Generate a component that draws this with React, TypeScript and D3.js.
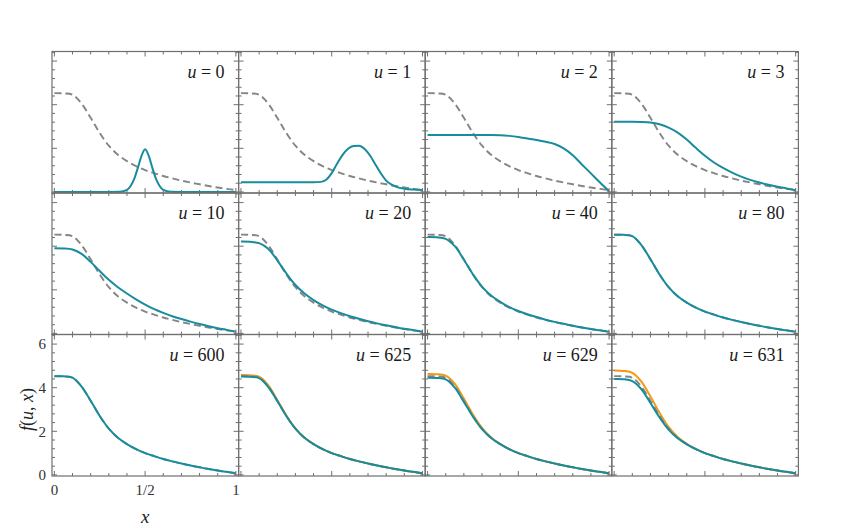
import React from 'react';
import * as d3 from 'd3';

// sample grid shared by most curves
const xGrid = [0, 0.05, 0.1, 0.15, 0.2, 0.25, 0.3, 0.35, 0.4, 0.45, 0.5, 0.55, 0.6, 0.65, 0.7, 0.75, 0.8, 0.85, 0.9, 0.95, 1];

// equilibrium (dashed gray)
const fEq = [4.53, 4.52, 4.46, 4.05, 3.4, 2.7, 2.12, 1.7, 1.41, 1.18, 1.0, 0.86, 0.73, 0.62, 0.52, 0.43, 0.35, 0.27, 0.2, 0.14, 0.08];

// early times with their own grids
const u0X = [0, 0.3, 0.36, 0.4, 0.42, 0.44, 0.46, 0.48, 0.5, 0.52, 0.54, 0.56, 0.58, 0.6, 0.64, 0.7, 1];
const u0F = [0, 0, 0.005, 0.09, 0.27, 0.6, 1.1, 1.65, 1.96, 1.65, 1.1, 0.6, 0.27, 0.09, 0.005, 0, 0];
const u1X = [0, 0.4, 0.44, 0.47, 0.5, 0.53, 0.56, 0.59, 0.62, 0.65, 0.68, 0.71, 0.74, 0.77, 0.8, 0.83, 0.86, 0.9, 0.95, 1];
const u1F = [0.44, 0.44, 0.46, 0.56, 0.86, 1.3, 1.7, 1.98, 2.11, 2.12, 1.98, 1.68, 1.27, 0.86, 0.52, 0.33, 0.22, 0.15, 0.11, 0.09];

const fU2 = [2.61, 2.61, 2.61, 2.61, 2.61, 2.61, 2.61, 2.61, 2.6, 2.57, 2.52, 2.45, 2.38, 2.3, 2.2, 2.0, 1.68, 1.26, 0.85, 0.43, 0.03];
const fU3 = [3.22, 3.22, 3.22, 3.21, 3.18, 3.1, 2.95, 2.72, 2.4, 2.02, 1.66, 1.35, 1.1, 0.88, 0.7, 0.55, 0.43, 0.33, 0.24, 0.16, 0.08];
const fU10 = [3.91, 3.9, 3.85, 3.65, 3.28, 2.86, 2.46, 2.12, 1.83, 1.56, 1.32, 1.11, 0.94, 0.79, 0.66, 0.54, 0.43, 0.33, 0.24, 0.16, 0.08];
const fU20 = [4.21, 4.2, 4.14, 3.88, 3.35, 2.75, 2.22, 1.83, 1.53, 1.29, 1.09, 0.93, 0.79, 0.67, 0.56, 0.46, 0.37, 0.29, 0.21, 0.15, 0.08];
const fU40 = [4.42, 4.41, 4.34, 4.0, 3.38, 2.71, 2.15, 1.74, 1.45, 1.21, 1.03, 0.88, 0.75, 0.63, 0.53, 0.44, 0.35, 0.27, 0.2, 0.14, 0.08];
const fU625 = [4.51, 4.5, 4.44, 4.04, 3.39, 2.7, 2.12, 1.7, 1.41, 1.18, 1.0, 0.86, 0.73, 0.62, 0.52, 0.43, 0.35, 0.27, 0.2, 0.14, 0.08];
const fU629 = [4.46, 4.45, 4.38, 4.0, 3.35, 2.67, 2.1, 1.69, 1.41, 1.18, 1.0, 0.86, 0.73, 0.62, 0.52, 0.43, 0.35, 0.27, 0.2, 0.14, 0.08];
const fU631 = [4.4, 4.39, 4.3, 3.93, 3.3, 2.64, 2.08, 1.68, 1.4, 1.18, 1.0, 0.86, 0.73, 0.62, 0.52, 0.43, 0.35, 0.27, 0.2, 0.14, 0.08];

// orange comparison curves
const gU625 = [4.58, 4.57, 4.51, 4.12, 3.44, 2.72, 2.13, 1.7, 1.41, 1.18, 1.0, 0.86, 0.73, 0.62, 0.52, 0.43, 0.35, 0.27, 0.2, 0.14, 0.08];
const gU629 = [4.63, 4.62, 4.55, 4.18, 3.5, 2.77, 2.16, 1.72, 1.42, 1.18, 1.0, 0.86, 0.73, 0.62, 0.52, 0.43, 0.35, 0.27, 0.2, 0.14, 0.08];
const gU631 = [4.79, 4.77, 4.68, 4.28, 3.6, 2.85, 2.2, 1.74, 1.43, 1.19, 1.0, 0.86, 0.73, 0.62, 0.52, 0.43, 0.35, 0.27, 0.2, 0.14, 0.08];

const uLabels = ['0', '1', '2', '3', '10', '20', '40', '80', '600', '625', '629', '631'];
const yTickLabels = [0, 2, 4, 6];
const xTickLabels = [{ v: 0, t: '0' }, { v: 0.5, t: '1/2' }, { v: 1, t: '1' }];

const zip = (xs: number[], ys: number[]) => xs.map((x, i) => [x, ys[i]] as [number, number]);

const panels = [
  { teal: zip(u0X, u0F), dashed: true, sharp: true },
  { teal: zip(u1X, u1F), dashed: true, sharp: true },
  { teal: zip(xGrid, fU2), dashed: true, sharp: true },
  { teal: zip(xGrid, fU3), dashed: true },
  { teal: zip(xGrid, fU10), dashed: true },
  { teal: zip(xGrid, fU20), dashed: true },
  { teal: zip(xGrid, fU40), dashed: true },
  { teal: zip(xGrid, fEq), dashed: true },
  { teal: zip(xGrid, fEq), dashed: true },
  { teal: zip(xGrid, fU625), dashed: true, orange: zip(xGrid, gU625) },
  { teal: zip(xGrid, fU629), dashed: true, orange: zip(xGrid, gU629) },
  { teal: zip(xGrid, fU631), dashed: true, orange: zip(xGrid, gU631) },
];

const W = 854, H = 528;
const left = 52, top = 51.5, pw = 186.6, ph = 141.5;
const TEAL = '#168c9c';
const ORANGE = '#f39a12';
const GRAY = '#858585';
const FRAME = '#6f6f6f';
const FONT = 'Liberation Serif';

const x = d3.scaleLinear().domain([-0.013, 1.015]).range([0, pw]);
const y = d3.scaleLinear().domain([-0.05, 6.44]).range([ph, 0]);
const smooth = d3.line<[number, number]>().x(d => x(d[0])).y(d => y(d[1])).curve(d3.curveCatmullRom.alpha(0.5));
const mono = d3.line<[number, number]>().x(d => x(d[0])).y(d => y(d[1])).curve(d3.curveMonotoneX);

const xMinor = d3.range(0, 1.0001, 0.1);
const yMinor = d3.range(0, 6.41, 0.4);

export default function App() {
  const eq = zip(xGrid, fEq);
  return (
    <svg width={W} height={H} style={{ position: 'absolute', left: 0, top: 0, background: '#fff' }}>
      {panels.map((p, i) => {
        const col = i % 4, row = Math.floor(i / 4);
        const ox = left + col * pw, oy = top + row * ph;
        const tealLine = p.sharp ? mono : smooth;
        return (
          <g key={i} transform={`translate(${ox},${oy})`}>
            <defs>
              <clipPath id={`clip${i}`}>
                <rect x={0} y={0} width={pw} height={ph} />
              </clipPath>
            </defs>
            <g clipPath={`url(#clip${i})`}>
              {p.orange && <path d={smooth(p.orange) || ''} fill="none" stroke={ORANGE} strokeWidth={2} />}
              {p.dashed && <path d={smooth(eq) || ''} fill="none" stroke={GRAY} strokeWidth={1.9} strokeDasharray="7,4" />}
              <path d={tealLine(p.teal) || ''} fill="none" stroke={TEAL} strokeWidth={2} />
            </g>
            {xMinor.map((v, k) => {
              const major = Math.abs(v - 0.5) < 1e-6 || v < 1e-6 || v > 0.999;
              const len = major ? 5 : 3;
              return (
                <g key={'xt' + k} stroke={FRAME} strokeWidth={1}>
                  <line x1={x(v)} x2={x(v)} y1={ph} y2={ph - len} />
                  <line x1={x(v)} x2={x(v)} y1={0} y2={len} />
                </g>
              );
            })}
            {yMinor.map((v, k) => {
              const major = Math.abs(v / 2 - Math.round(v / 2)) < 1e-6;
              const len = major ? 5 : 3;
              return (
                <g key={'yt' + k} stroke={FRAME} strokeWidth={1}>
                  <line x1={0} x2={len} y1={y(v)} y2={y(v)} />
                  <line x1={pw} x2={pw - len} y1={y(v)} y2={y(v)} />
                </g>
              );
            })}
            <rect x={0} y={0} width={pw} height={ph} fill="none" stroke={FRAME} strokeWidth={1.2} />
            <text x={pw - 14} y={26} textAnchor="end" style={{ fontFamily: FONT, fontSize: 18 }} fill="#1a1a1a">
              <tspan fontStyle="italic">u</tspan>{' = ' + uLabels[i]}
            </text>
            {i === 8 && (
              <g style={{ fontFamily: FONT, fontSize: 15 }} fill="#333">
                {yTickLabels.map(v => (
                  <text key={'yl' + v} x={-6} y={y(v)} dy="0.35em" textAnchor="end">{v}</text>
                ))}
                {xTickLabels.map(d => (
                  <text key={'xl' + d.t} x={x(d.v)} y={ph + 19} textAnchor="middle">{d.t}</text>
                ))}
              </g>
            )}
          </g>
        );
      })}
      <text x={x(0.5) + left} y={523} textAnchor="middle" style={{ fontFamily: FONT, fontSize: 19, fontStyle: 'italic' }} fill="#222">x</text>
      <text transform={`translate(33,${top + 2 * ph + y(3)}) rotate(-90)`} textAnchor="middle" style={{ fontFamily: FONT, fontSize: 18 }} fill="#222">
        <tspan fontStyle="italic">f</tspan>(<tspan fontStyle="italic">u</tspan>, <tspan fontStyle="italic">x</tspan>)
      </text>
    </svg>
  );
}
